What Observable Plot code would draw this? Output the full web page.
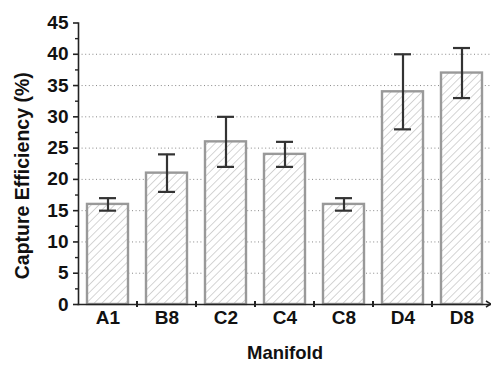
<!DOCTYPE html>
<html>
<head>
<meta charset="utf-8">
<script src="https://cdn.jsdelivr.net/npm/d3@7"></script>
<script src="https://cdn.jsdelivr.net/npm/@observablehq/plot@0.6"></script>
<style>
  body { margin: 0; background: #fff; }
  svg { font-family: "Liberation Sans", Arial, sans-serif; }
</style>
</head>
<body>
<div id="chart"></div>
<script>
const categories = ["A1", "B8", "C2", "C4", "C8", "D4", "D8"];
const values = [16, 21, 26, 24, 16, 34, 37];
const errLow = [15, 18, 22, 22, 15, 28, 33];
const errHigh = [17, 24, 30, 26, 17, 40, 41];
const majorTicks = [0, 5, 10, 15, 20, 25, 30, 35, 40, 45];
const minorTicks = [2.5, 7.5, 12.5, 17.5, 22.5, 27.5, 32.5, 37.5, 42.5];
const gridTicks = [5, 10, 15, 20, 25, 30, 35, 40];

const data = categories.map((c, i) => ({cat: c, val: values[i], lo: errLow[i], hi: errHigh[i]}));

// custom mark: x-axis boundary ticks and arrow, using the x scale
function xBoundaryTicks(index, scales, values, dims) {
  const x = scales.x;
  const bw = x.bandwidth();
  const step = x.step();
  const y0 = dims.height - dims.marginBottom;
  const g = d3.create("svg:g");
  categories.slice(1).forEach(c => {
    const px = x(c) - (step - bw) / 2;
    g.append("line").attr("x1", px).attr("x2", px).attr("y1", y0 - 3).attr("y2", y0 + 3)
      .attr("stroke", "#222").attr("stroke-width", 2);
  });
  const xe = dims.width - dims.marginRight;
  g.append("path").attr("d", `M${xe - 5},${y0 - 3}L${xe},${y0}L${xe - 5},${y0 + 3}`)
    .attr("fill", "none").attr("stroke", "#222").attr("stroke-width", 1.5);
  return g.node();
}

const chart = Plot.plot({
  width: 491,
  height: 365,
  marginLeft: 78,
  marginRight: 0,
  marginTop: 22.5,
  marginBottom: 61,
  style: {fontFamily: "'Liberation Sans', Arial, sans-serif", background: "#fff", color: "#222"},
  x: {type: "band", domain: categories, paddingInner: 0.3, paddingOuter: 0.15},
  y: {domain: [0, 45]},
  marks: [
    Plot.gridY(gridTicks, {stroke: "#888", strokeOpacity: 1, strokeDasharray: "1,2.6", strokeWidth: 1}),
    Plot.barY(data, {x: "cat", y: "val", fill: "url(#hatch)", stroke: "#999", strokeWidth: 2.4}),
    Plot.ruleX(data, {x: "cat", y1: "lo", y2: "hi", stroke: "#333", strokeWidth: 2.2}),
    Plot.tickY(data, {x: "cat", y: "lo", stroke: "#333", strokeWidth: 2.2, insetLeft: 12, insetRight: 12}),
    Plot.tickY(data, {x: "cat", y: "hi", stroke: "#333", strokeWidth: 2.2, insetLeft: 12, insetRight: 12}),
    Plot.frame({anchor: "left", stroke: "#222", strokeWidth: 1.6}),
    Plot.frame({anchor: "bottom", stroke: "#222", strokeWidth: 1.6}),
    Plot.axisY(majorTicks, {tickSize: 5, tickPadding: 5, fontSize: 19, fontWeight: "bold", label: null, stroke: "#222", strokeWidth: 1.6, fill: "#111"}),
    Plot.axisY(minorTicks, {tickSize: 3, text: null, label: null, stroke: "#222", strokeWidth: 1.4}),
    Plot.axisX({tickSize: 0, tickPadding: 6, fontSize: 19, fontWeight: "bold", label: null, fill: "#111"}),
    xBoundaryTicks,
    Plot.text(["Capture Efficiency (%)"], {frameAnchor: "left", textAnchor: "middle", rotate: -90, dx: -56, dy: 12, fontSize: 19.5, fontWeight: "bold", fill: "#111"}),
    Plot.text(["Manifold"], {frameAnchor: "bottom", dy: 54, fontSize: 18.5, fontWeight: "bold", fill: "#111"})
  ]
});

// hatch pattern definition
const svg = d3.select(chart);
const defs = svg.insert("defs", ":first-child");
const pat = defs.append("pattern").attr("id", "hatch").attr("patternUnits", "userSpaceOnUse")
  .attr("width", 5.5).attr("height", 5.5).attr("patternTransform", "rotate(45)");
pat.append("rect").attr("width", 5.5).attr("height", 5.5).attr("fill", "#fff");
pat.append("line").attr("x1", 0).attr("y1", 0).attr("x2", 0).attr("y2", 5.5)
  .attr("stroke", "#aaa").attr("stroke-width", 1);

document.getElementById("chart").appendChild(chart);
</script>
</body>
</html>
